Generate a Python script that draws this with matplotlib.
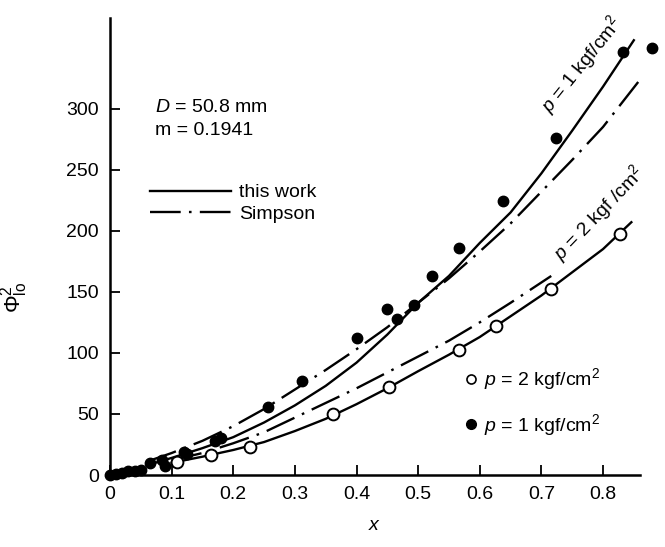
import matplotlib
matplotlib.use("Agg")
import matplotlib.pyplot as plt
from matplotlib.lines import Line2D

plt.rcParams['font.family'] = ['Liberation Sans', 'DejaVu Sans']
plt.rcParams['mathtext.fontset'] = 'custom'
plt.rcParams['mathtext.rm'] = 'Liberation Sans'
plt.rcParams['mathtext.it'] = 'Liberation Sans:italic'
plt.rcParams['mathtext.bf'] = 'Liberation Sans:bold'

# measured points, p = 1 kgf/cm2 (filled)
x_p1 = [0.0, 0.01, 0.02, 0.03, 0.04, 0.05, 0.065, 0.085, 0.09, 0.12, 0.125, 0.17, 0.18,
        0.257, 0.312, 0.40, 0.45, 0.465, 0.493, 0.522, 0.566, 0.637, 0.724, 0.833, 0.88]
y_p1 = [0, 1, 2, 3, 3, 4, 10, 12, 7, 19, 17, 28, 30,
        56, 77, 112, 136, 128, 139, 163, 186, 224, 276, 346, 350]

# measured points, p = 2 kgf/cm2 (open)
x_p2 = [0.108, 0.164, 0.227, 0.362, 0.452, 0.567, 0.627, 0.715, 0.827]
y_p2 = [11, 16, 23, 50, 72, 102, 122, 152, 197]

# "this work" curves
xw1 = [0.06, 0.1, 0.15, 0.2, 0.25, 0.3, 0.35, 0.4, 0.45, 0.5, 0.55, 0.6, 0.65, 0.7, 0.75, 0.8, 0.85]
yw1 = [8, 14, 22, 31, 43, 57, 73, 92, 115, 141, 163, 190, 215, 247, 282, 318, 356]
xw2 = [0.1, 0.15, 0.2, 0.25, 0.3, 0.35, 0.4, 0.45, 0.5, 0.55, 0.6, 0.65, 0.7, 0.75, 0.8, 0.846]
yw2 = [10, 15, 20.5, 27, 36, 46, 58, 71, 85, 98.5, 113, 130, 147, 166, 185, 207]

# Simpson curves
xs1 = [0.06, 0.1, 0.15, 0.2, 0.25, 0.3, 0.35, 0.4, 0.45, 0.5, 0.55, 0.6, 0.65, 0.7, 0.75, 0.8, 0.862]
ys1 = [11, 18, 28, 40, 54, 70, 86, 103, 121, 141, 161, 183, 206, 232, 258, 285, 325]
xs2 = [0.1, 0.15, 0.2, 0.25, 0.3, 0.35, 0.4, 0.45, 0.5, 0.55, 0.6, 0.65, 0.716]
ys2 = [12, 18, 26, 35, 47, 59, 71, 84, 97, 110, 125, 141, 163]

xticks = [0, 0.1, 0.2, 0.3, 0.4, 0.5, 0.6, 0.7, 0.8]
yticks = [0, 50, 100, 150, 200, 250, 300]

fs = 14

fig = plt.figure(figsize=(6.65, 5.47), dpi=100)
ax = fig.add_axes([0.1654, 0.1316, 0.797, 0.835])

dashdot = (0, (13, 3.5, 1.1, 3.5))
lw = 1.7
ax.plot(xw1, yw1, color='black', lw=lw)
ax.plot(xw2, yw2, color='black', lw=lw)
ax.plot(xs1, ys1, color='black', lw=lw, linestyle=dashdot)
ax.plot(xs2, ys2, color='black', lw=lw, linestyle=dashdot)

ax.plot(x_p1, y_p1, 'o', color='black', ms=7.5, clip_on=False, zorder=5)
ax.plot(x_p2, y_p2, 'o', mfc='white', mec='black', mew=1.4, ms=8.5, clip_on=False, zorder=5)

ax.set_xlim(0, 0.86)
ax.set_ylim(0, 374)
ax.set_xticks(xticks)
ax.set_xticklabels(['0' if t == 0 else f'{t:.1f}' for t in xticks])
ax.set_yticks(yticks)
for s in ['top', 'right']:
    ax.spines[s].set_visible(False)
for s in ['left', 'bottom']:
    ax.spines[s].set_linewidth(1.8)
ax.tick_params(direction='in', length=7, width=1.3, labelsize=fs)
ax.tick_params(axis='y', pad=8)
ax.tick_params(axis='x', pad=8)

ax.set_xlabel('$x$', fontsize=fs, labelpad=10)
ax.set_ylabel(r'$\Phi^{2}_{\mathrm{lo}}$', fontsize=fs + 2)
ax.yaxis.set_label_coords(-0.15, 0.39)

ax.text(0.073, 301, '$D$ = 50.8 mm', fontsize=fs, va='center')
ax.text(0.073, 282, 'm = 0.1941', fontsize=fs, va='center')

h1 = [Line2D([], [], color='black', lw=lw),
      Line2D([], [], color='black', lw=lw, linestyle=dashdot)]
leg1 = ax.legend(h1, ['this work', 'Simpson'], loc='center left',
                 bbox_to_anchor=(0.075, 0.595), frameon=False, fontsize=fs,
                 handlelength=4.2, handletextpad=0.4, labelspacing=0.2,
                 borderpad=0, borderaxespad=0)
ax.add_artist(leg1)

h2 = [Line2D([], [], ls='none', marker='o', mfc='white', mec='black', mew=1.2, ms=6.5),
      Line2D([], [], ls='none', marker='o', color='black', ms=7)]
ax.legend(h2, ['$p$ = 2 kgf/cm$^2$', '$p$ = 1 kgf/cm$^2$'], loc='center left',
          bbox_to_anchor=(0.67, 0.16), frameon=False, fontsize=fs,
          handlelength=0.6, handletextpad=0.35, labelspacing=1.0,
          borderpad=0, borderaxespad=0)

ax.text(0.765, 336, '$p$ = 1 kgf/cm$^2$', fontsize=fs, rotation=51,
        ha='center', va='center', rotation_mode='anchor')
ax.text(0.793, 214, '$p$ = 2 kgf /cm$^2$', fontsize=fs, rotation=46,
        ha='center', va='center', rotation_mode='anchor')

fig.savefig('out.png', dpi=100)
